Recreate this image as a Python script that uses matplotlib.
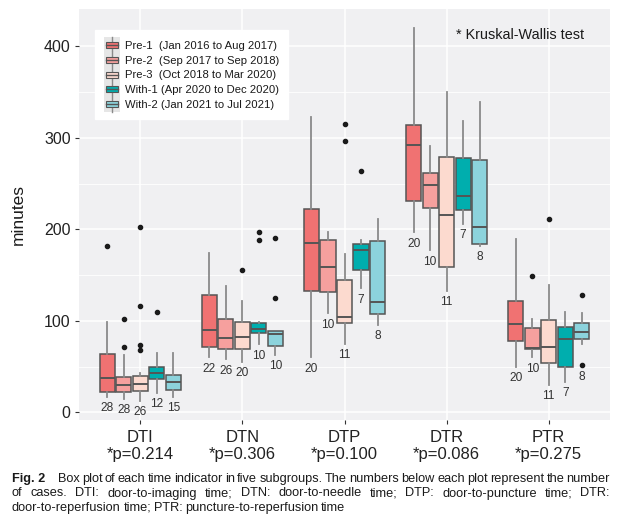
import numpy as np
import matplotlib
matplotlib.use('Agg')
import matplotlib.pyplot as plt
from matplotlib.patches import Patch, Rectangle
from matplotlib.lines import Line2D
from matplotlib.legend_handler import HandlerBase

plt.rcParams['font.family'] = ['Liberation Sans', 'DejaVu Sans']

categories = ['DTI', 'DTN', 'DTP', 'DTR', 'PTR']
p_values = ['0.214', '0.306', '0.100', '0.086', '0.275']
group_labels = ['Pre-1  (Jan 2016 to Aug 2017)', 'Pre-2  (Sep 2017 to Sep 2018)',
                'Pre-3  (Oct 2018 to Mar 2020)', 'With-1 (Apr 2020 to Dec 2020)',
                'With-2 (Jan 2021 to Jul 2021)']
group_colors = ['#F07272', '#F6A09E', '#FCDACF', '#00AEAE', '#8CD3DC']

# per subgroup, one value per category (DTI, DTN, DTP, DTR, PTR)
pre1_q1 = [22, 71, 133, 231, 78]
pre1_med = [37, 90, 185, 292, 97]
pre1_q3 = [64, 128, 222, 314, 122]
pre1_lo = [17, 60, 60, 197, 50]
pre1_hi = [99, 174, 323, 420, 189]
pre1_n = [28, 22, 20, 20, 20]
pre1_out = [[182], [], [], [], []]

pre2_q1 = [22, 69.5, 132, 223, 69]
pre2_med = [29.5, 81, 159, 248, 70.6]
pre2_q3 = [39, 101.6, 188, 262, 92.6]
pre2_lo = [15, 58, 108, 177, 60]
pre2_hi = [63, 138, 197, 291, 102]
pre2_n = [28, 26, 10, 10, 10]
pre2_out = [[102, 71], [], [], [], [149]]

pre3_q1 = [23, 69, 98, 158.5, 53.6]
pre3_med = [30.6, 82.6, 104, 216, 71.4]
pre3_q3 = [40, 98.4, 145, 279, 100.5]
pre3_lo = [12.7, 55, 75, 133, 30]
pre3_hi = [43, 122, 173, 350, 139]
pre3_n = [26, 20, 11, 11, 11]
pre3_out = [[203, 116.5, 73.5, 68], [155.5], [315, 297], [], [211.6]]

with1_q1 = [36.7, 86.3, 155, 221, 50]
with1_med = [42.6, 91, 177.4, 236, 80]
with1_q3 = [49.2, 97.3, 184, 277.6, 93]
with1_lo = [21.4, 74.3, 135.5, 206, 33.5]
with1_hi = [64.5, 98.4, 188.3, 318, 110]
with1_n = [12, 10, 7, 7, 7]
with1_out = [[110], [197, 188], [264], [], []]

with2_q1 = [24, 72.8, 107.4, 184, 80.4]
with2_med = [33.5, 85.6, 121, 202.5, 88]
with2_q3 = [40.4, 88.5, 187, 276, 97.6]
with2_lo = [17, 63, 95.4, 182, 74.3]
with2_hi = [64.5, 88.5, 211.6, 339, 109]
with2_n = [15, 10, 8, 8, 8]
with2_out = [[], [190.5, 125.3], [], [], [128, 51.4]]

groups = [
    (pre1_q1, pre1_med, pre1_q3, pre1_lo, pre1_hi, pre1_n, pre1_out),
    (pre2_q1, pre2_med, pre2_q3, pre2_lo, pre2_hi, pre2_n, pre2_out),
    (pre3_q1, pre3_med, pre3_q3, pre3_lo, pre3_hi, pre3_n, pre3_out),
    (with1_q1, with1_med, with1_q3, with1_lo, with1_hi, with1_n, with1_out),
    (with2_q1, with2_med, with2_q3, with2_lo, with2_hi, with2_n, with2_out),
]

EDGE = '#555555'
WHISK = '#8A8A8A'


class BoxKey(HandlerBase):
    # small boxplot glyph on a grey key, ggplot style
    def create_artists(self, legend, orig_handle, xdescent, ydescent,
                       width, height, fontsize, trans):
        x0, y0 = -xdescent, -ydescent
        bg = Rectangle((x0, y0 - 1.5), width, height + 3, facecolor='#E6E6E6',
                       edgecolor='none', transform=trans)
        cx = x0 + width / 2
        wl = Line2D([cx, cx], [y0 - 1.5, y0 + height + 1.5], color=WHISK, lw=1.0,
                    transform=trans)
        box = Rectangle((x0 + 0.1 * width, y0 + 0.25 * height), 0.8 * width, 0.5 * height,
                        facecolor=orig_handle.get_facecolor(), edgecolor=EDGE, lw=0.8,
                        transform=trans)
        med = Line2D([x0 + 0.1 * width, x0 + 0.9 * width], [y0 + height / 2] * 2,
                     color=EDGE, lw=1.0, transform=trans)
        return [bg, wl, box, med]


W, H = 620, 521
fig = plt.figure(figsize=(W / 100, H / 100), dpi=100)
ax = fig.add_axes([79 / W, 1 - 420 / H, (610 - 79) / W, (420 - 9) / H])
ax.set_facecolor('#F0F0F2')
for s in ax.spines.values():
    s.set_visible(False)

slot = 0.1616
bw = 0.147
for j, (q1, med, q3, lo, hi, n, out) in enumerate(groups):
    pos = np.arange(len(categories)) + (j - 2) * slot
    stats = []
    for i in range(len(categories)):
        stats.append(dict(q1=q1[i], med=med[i], q3=q3[i], whislo=lo[i],
                          whishi=hi[i], fliers=out[i]))
    ax.bxp(stats, positions=pos, widths=bw, patch_artist=True, showcaps=False,
           boxprops=dict(facecolor=group_colors[j], edgecolor=EDGE, lw=1.1),
           medianprops=dict(color=EDGE, lw=1.4),
           whiskerprops=dict(color=WHISK, lw=1.3),
           flierprops=dict(marker='o', markersize=3, markerfacecolor='#1a1a1a',
                           markeredgecolor='#1a1a1a'),
           zorder=3)
    for i in range(len(categories)):
        ymin = min([lo[i]] + out[i])
        ax.text(pos[i], ymin - 12.5, str(n[i]), ha='center', va='center',
                fontsize=8.6, color='#333333', zorder=4)

ax.set_xlim(-0.6, len(categories) - 0.4)
ax.set_ylim(-8.4, 440.8)
ax.set_yticks([0, 100, 200, 300, 400])
ax.set_yticks([50, 150, 250, 350], minor=True)
ax.set_xticks(np.arange(len(categories)))
ax.set_xticklabels([c + '\n*p=' + p for c, p in zip(categories, p_values)])
ax.grid(True, which='major', color='white', lw=1.1, zorder=0)
ax.grid(True, which='minor', axis='y', color='white', lw=0.6, zorder=0)
ax.set_axisbelow(True)
ax.tick_params(axis='both', which='major', length=3, width=0.8, color='#333333',
               labelcolor='#222222', labelsize=11.5, pad=3)
ax.tick_params(axis='y', which='minor', length=0)
ax.tick_params(axis='x', labelsize=12, pad=4)
ax.set_ylabel('minutes', fontsize=12.5, color='#1a1a1a', labelpad=13)

fig.text(456.5 / W, 1 - 35 / H, '* Kruskal-Wallis test', fontsize=10.4,
         color='#1a1a1a', ha='left', va='center')

handles = [Patch(facecolor=c) for c in group_colors]
leg = ax.legend(handles, group_labels, handler_map={Patch: BoxKey()},
                loc='upper left', bbox_to_anchor=(95 / W, 1 - 30 / H),
                bbox_transform=fig.transFigure, fontsize=8.1, frameon=True,
                fancybox=False, framealpha=1, edgecolor='white', facecolor='white',
                borderpad=0.8, labelspacing=0.22, handlelength=1.4,
                handleheight=1.3, handletextpad=0.45, borderaxespad=0)
for t in leg.get_texts():
    t.set_color('#1a1a1a')

# caption, justified like the journal layout
renderer = fig.canvas.get_renderer()
cap_fs = 9.2


def put_line(words, y, x0, x1, justify=True, first_bold=False):
    texts = []
    for k, w in enumerate(words):
        bold = first_bold and k == 0
        texts.append(fig.text(0, 1 - y / H, w, fontsize=cap_fs, va='center', ha='left',
                              color='#1a1a1a', fontweight='bold' if bold else 'normal'))
    widths = [t.get_window_extent(renderer).width for t in texts]
    if justify and len(words) > 1:
        gap = (x1 - x0 - sum(widths)) / (len(words) - 1)
    else:
        gap = 2.6
    x = x0
    for t, w in zip(texts, widths):
        t.set_x(x / W)
        x += w + gap


put_line(['Fig. 2'], 479, 12, 48, justify=False, first_bold=True)
put_line('Box plot of each time indicator in five subgroups. The numbers below each plot '
         'represent the number'.split(), 479, 58, 610)
put_line('of cases. DTI: door-to-imaging time; DTN: door-to-needle time; DTP: '
         'door-to-puncture time; DTR:'.split(), 493.5, 12, 610)
put_line('door-to-reperfusion time; PTR: puncture-to-reperfusion time'.split(),
         508, 12, 610, justify=False)

fig.savefig('out.png', dpi=100)
